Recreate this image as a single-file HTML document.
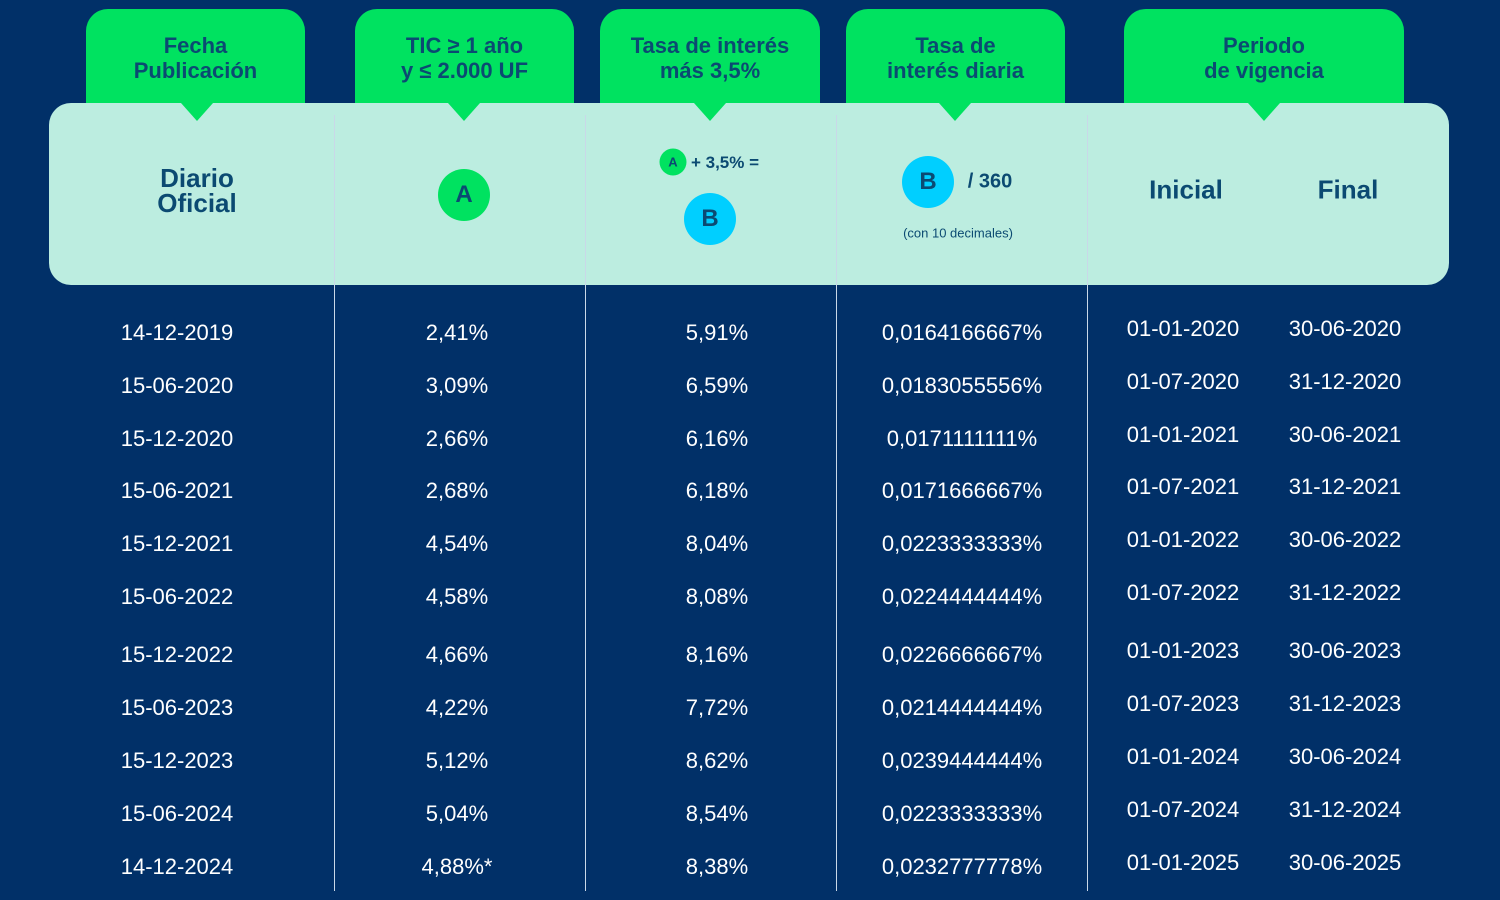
<!DOCTYPE html>
<html><head><meta charset="utf-8">
<style>
body{margin:0;width:1500px;height:900px;background:#013068;overflow:hidden;position:relative;font-family:"Liberation Sans",Arial,sans-serif}
.tab{position:absolute;top:9px;height:100px;background:#00e260;border-radius:22px 22px 0 0;color:#0b4a72;font-weight:bold;font-size:22px;line-height:25px;text-align:center;box-sizing:border-box;padding-top:24px}
.panel{position:absolute;left:49px;top:103px;width:1400px;height:182px;background:#bcede0;border-radius:22px}
.tri{position:absolute;top:103px;width:0;height:0;border-left:16px solid transparent;border-right:16px solid transparent;border-top:18px solid #00e260;margin-left:-16px}
.div{position:absolute;top:115px;height:776px;width:1px;background:#c9d8e8}
.t{position:absolute;color:#0b4a72;font-weight:bold;text-align:center;transform:translate(-50%,-50%);white-space:nowrap}
.circ{position:absolute;border-radius:50%;transform:translate(-50%,-50%);color:#0b4a72;font-weight:bold;display:flex;align-items:center;justify-content:center}
.c{position:absolute;color:#fff;font-size:22px;transform:translate(-50%,-50%);white-space:nowrap}
</style></head><body>
<div class="tab" style="left:86px;width:219px">Fecha<br>Publicación</div>
<div class="tab" style="left:355px;width:219px">TIC ≥ 1 año<br>y ≤ 2.000 UF</div>
<div class="tab" style="left:600px;width:220px">Tasa de interés<br>más 3,5%</div>
<div class="tab" style="left:846px;width:219px">Tasa de<br>interés diaria</div>
<div class="tab" style="left:1124px;width:280px">Periodo<br>de vigencia</div>
<div class="panel"></div>
<div class="tri" style="left:197px"></div>
<div class="tri" style="left:464px"></div>
<div class="tri" style="left:710px"></div>
<div class="tri" style="left:955px"></div>
<div class="tri" style="left:1264px"></div>
<div class="div" style="left:334px"></div>
<div class="div" style="left:585px"></div>
<div class="div" style="left:836px"></div>
<div class="div" style="left:1087px"></div>

<div class="t" style="left:197px;top:191px;font-size:26px;line-height:25px">Diario<br>Oficial</div>
<div class="circ" style="left:464px;top:195px;width:52px;height:52px;background:#00e260;font-size:24px">A</div>
<div class="circ" style="left:673px;top:162px;width:27px;height:27px;background:#00e260;font-size:13px">A</div>
<div class="t" style="left:725px;top:163px;font-size:17px">+ 3,5% =</div>
<div class="circ" style="left:710px;top:219px;width:52px;height:52px;background:#00cfff;font-size:24px">B</div>
<div class="circ" style="left:928px;top:182px;width:52px;height:52px;background:#00cfff;font-size:24px">B</div>
<div class="t" style="left:990px;top:182px;font-size:20px">/ 360</div>
<div class="t" style="left:958px;top:233px;font-size:13px;font-weight:normal">(con 10 decimales)</div>
<div class="t" style="left:1186px;top:190px;font-size:26px">Inicial</div>
<div class="t" style="left:1348px;top:190px;font-size:26px">Final</div>

<div id="rows"></div>
<script>
const fechas=["14-12-2019","15-06-2020","15-12-2020","15-06-2021","15-12-2021","15-06-2022","15-12-2022","15-06-2023","15-12-2023","15-06-2024","14-12-2024"];
const tic=["2,41%","3,09%","2,66%","2,68%","4,54%","4,58%","4,66%","4,22%","5,12%","5,04%","4,88%*"];
const tasa=["5,91%","6,59%","6,16%","6,18%","8,04%","8,08%","8,16%","7,72%","8,62%","8,54%","8,38%"];
const diaria=["0,0164166667%","0,0183055556%","0,0171111111%","0,0171666667%","0,0223333333%","0,0224444444%","0,0226666667%","0,0214444444%","0,0239444444%","0,0223333333%","0,0232777778%"];
const inicial=["01-01-2020","01-07-2020","01-01-2021","01-07-2021","01-01-2022","01-07-2022","01-01-2023","01-07-2023","01-01-2024","01-07-2024","01-01-2025"];
const final=["30-06-2020","31-12-2020","30-06-2021","31-12-2021","30-06-2022","31-12-2022","30-06-2023","31-12-2023","30-06-2024","31-12-2024","30-06-2025"];
const rowY=[333,386,439,491,544,597,655,708,761,814,867];
const root=document.getElementById('rows');
function cell(txt,x,y,name){
  const d=document.createElement('div');
  d.className='c';
  
  
  d.style.left=x+'px';d.style.top=y+'px';d.textContent=txt;root.appendChild(d);
}
fechas.forEach((f,i)=>{
  const y=rowY[i];
  cell(f,177,y,'fecha-cell');
  cell(tic[i],457,y,'tic-cell');
  cell(tasa[i],717,y,'tasa-cell');
  cell(diaria[i],962,y,'diaria-cell');
  cell(inicial[i],1183,y-4,'inicial-cell');
  cell(final[i],1345,y-4,'final-cell');
});
</script>
</body></html>
